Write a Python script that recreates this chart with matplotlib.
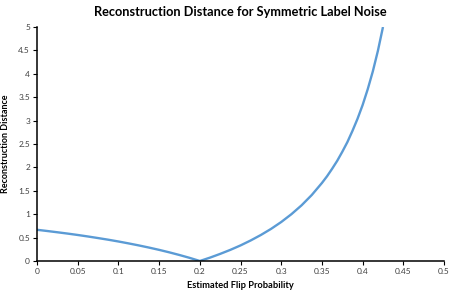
import numpy as np
import matplotlib.pyplot as plt

# values
flip_prob = [0.0, 0.0125, 0.025, 0.0375, 0.05, 0.0625, 0.075, 0.0875,
             0.1, 0.1125, 0.125, 0.1375, 0.15, 0.1625, 0.175, 0.1875, 0.2,
             0.2125, 0.225, 0.2375, 0.25, 0.2625, 0.275, 0.2875, 0.3,
             0.3125, 0.325, 0.3375, 0.35, 0.35625, 0.3625, 0.36875, 0.375,
             0.38125, 0.3875, 0.39375, 0.4, 0.40625, 0.4125, 0.41875, 0.425]
distance = [0.667, 0.641, 0.614, 0.586, 0.556, 0.524, 0.490, 0.455,
            0.417, 0.376, 0.333, 0.287, 0.238, 0.185, 0.128, 0.067, 0.0,
            0.072, 0.152, 0.238, 0.333, 0.439, 0.556, 0.686, 0.833,
            1.0, 1.19, 1.41, 1.667, 1.81, 1.97, 2.14, 2.333,
            2.54, 2.78, 3.04, 3.333, 3.67, 4.05, 4.49, 5.0]

xticks = np.arange(0, 0.501, 0.05)
yticks = np.arange(0, 5.01, 0.5)
xlabels = ['0', '0.05', '0.1', '0.15', '0.2', '0.25', '0.3', '0.35', '0.4', '0.45', '0.5']
ylabels = ['0', '0.5', '1', '1.5', '2', '2.5', '3', '3.5', '4', '4.5', '5']

plt.rcParams['font.family'] = ['Lato', 'DejaVu Sans']

fig = plt.figure(figsize=(4.53, 3.0), dpi=100)
ax = fig.add_axes([0.0817, 0.13, 0.8985, 0.78])
ax.plot(flip_prob, distance, color='#5B9BD5', lw=1.7, solid_capstyle='butt',
        solid_joinstyle='round')

ax.set_xlim(0, 0.5)
ax.set_ylim(0, 5)
ax.set_xticks(xticks)
ax.set_xticklabels(xlabels)
ax.set_yticks(yticks)
ax.set_yticklabels(ylabels)
ax.tick_params(direction='out', length=3, width=0.8, labelsize=6, colors='#000000',
               labelcolor='#404040', pad=2)

for s in ['top', 'right']:
    ax.spines[s].set_visible(False)
for s in ['left', 'bottom']:
    ax.spines[s].set_linewidth(1.1)
    ax.spines[s].set_color('black')

ax.set_title('Reconstruction Distance for Symmetric Label Noise',
             fontsize=9.2, fontweight='bold', pad=8)
ax.set_xlabel('Estimated Flip Probability', fontsize=6.7, fontweight='bold', labelpad=4)
ax.set_ylabel('Reconstruction Distance', fontsize=6.5, fontweight='bold', labelpad=6)

fig.savefig('out.png', dpi=100)
